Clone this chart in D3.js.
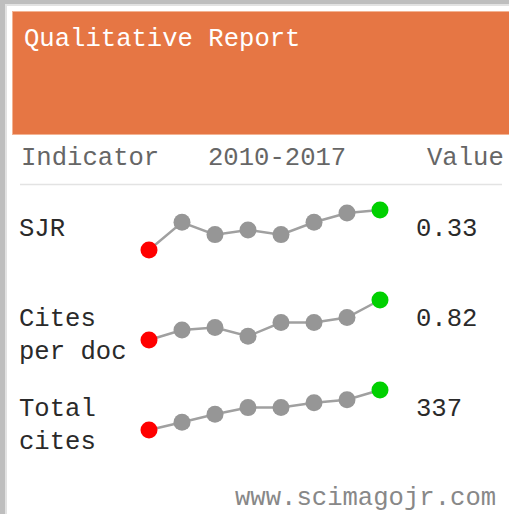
<!DOCTYPE html>
<html>
<head>
<meta charset="utf-8">
<script src="https://cdn.jsdelivr.net/npm/d3@7"></script>
<style>
  html, body { margin: 0; padding: 0; background: #fff; }
  svg { display: block; }
  text { font-family: "Liberation Mono", "DejaVu Sans Mono", monospace; font-size: 25.6px; }
</style>
</head>
<body>
<svg id="chart"></svg>
<script>
// data
var years = ["2010", "2011", "2012", "2013", "2014", "2015", "2016", "2017"];
var indicators = [["SJR"], ["Cites", "per doc"], ["Total", "cites"]];
var sjr = [0.20, 0.29, 0.25, 0.265, 0.25, 0.29, 0.32, 0.33];
var citesPerDoc = [0.50, 0.58, 0.60, 0.53, 0.64, 0.64, 0.68, 0.82];
var totalCites = [110, 154, 199, 237, 238, 265, 282, 337];
var shownValues = ["0.33", "0.82", "337"];
var headers = ["Indicator", "2010-2017", "Value"];

window.onload = function() {
    var width = 509,
	height = 514;

    var svg = d3.select("#chart")
	.attr("width", width)
	.attr("height", height);

    // frame
    svg.append("rect").attr("x", 0).attr("y", 0).attr("width", width).attr("height", height).attr("fill", "#bebebe");
    svg.append("rect").attr("x", 5).attr("y", 4).attr("width", width - 5).attr("height", height - 4).attr("fill", "#e2e2e2");
    svg.append("rect").attr("x", 7).attr("y", 6).attr("width", width - 7).attr("height", height - 6).attr("fill", "#fff");

    // orange header
    svg.append("rect").attr("x", 12).attr("y", 11).attr("width", width - 12).attr("height", 124)
	.attr("fill", "#e67644");
    svg.append("rect").attr("x", 12.5).attr("y", 11.5).attr("width", width - 12).attr("height", 123)
	.attr("fill", "none").attr("stroke", "#f3b393").attr("stroke-width", 1);
    svg.append("text").attr("x", 24).attr("y", 46).attr("fill", "#fff")
	.text("Qualitative Report");

    // column headers
    var hx = [21, 208, 427];
    svg.selectAll("text.hdr").data(headers).enter().append("text")
	.attr("class", "hdr")
	.attr("x", function(d, i) { return hx[i]; })
	.attr("y", 165)
	.attr("fill", "#666")
	.text(function(d) { return d; });
    svg.append("line").attr("x1", 20).attr("x2", 502).attr("y1", 184.5).attr("y2", 184.5)
	.attr("stroke", "#e3e3e3").attr("stroke-width", 1.5);

    var series = [sjr, citesPerDoc, totalCites];
    var x = d3.scalePoint().domain(years).range([149, 380]);
    var rowTop = [210, 300, 390];

    series.forEach(function(vals, r) {
	var y = d3.scaleLinear().domain(d3.extent(vals)).range([rowTop[r] + 40, rowTop[r]]);
	var g = svg.append("g");
	var line = d3.line()
	    .x(function(d, i) { return x(years[i]); })
	    .y(function(d) { return y(d); });
	g.append("path").datum(vals).attr("d", line)
	    .attr("fill", "none").attr("stroke", "#a0a0a0").attr("stroke-width", 2.5);
	g.selectAll("circle").data(vals).enter().append("circle")
	    .attr("cx", function(d, i) { return x(years[i]); })
	    .attr("cy", function(d) { return y(d); })
	    .attr("r", 8.5)
	    .attr("fill", function(d, i) { return i == 0 ? "#ff0000" : (i == vals.length - 1 ? "#00d000" : "#969696"); });

	// label lines
	var lines = indicators[r];
	var base = rowTop[r] + 26;
	g.selectAll("text.lab").data(lines).enter().append("text")
	    .attr("class", "lab")
	    .attr("x", 19)
	    .attr("y", function(d, i) { return base + i * 33; })
	    .attr("fill", "#2a2a2a")
	    .text(function(d) { return d; });
	g.append("text").attr("x", 416).attr("y", base)
	    .attr("fill", "#2a2a2a")
	    .text(shownValues[r]);
    });

    svg.append("text").attr("x", 235).attr("y", 505).attr("fill", "#888")
	.text("www.scimagojr.com");
}
</script>
</body>
</html>
